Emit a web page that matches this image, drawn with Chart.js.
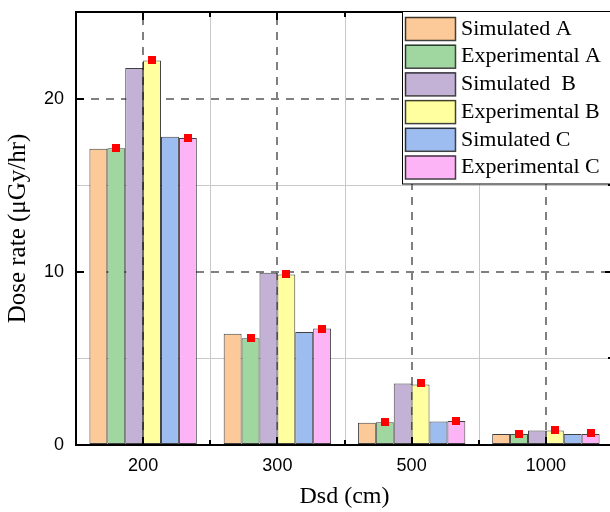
<!DOCTYPE html>
<html>
<head>
<meta charset="utf-8">
<script src="https://cdn.jsdelivr.net/npm/chart.js@4/dist/chart.umd.min.js"></script>
<style>
  html, body { margin: 0; padding: 0; background: #fff; overflow: hidden; }
  #doseChart { display: block; }
</style>
</head>
<body>
<canvas id="doseChart" width="614" height="512"></canvas>
<script>
// distances (cm)
const categories = ['200', '300', '500', '1000'];

// bar heights, µGy/hr
const simulatedA    = [17.10, 6.43, 1.29, 0.64];
const experimentalA = [17.13, 6.16, 1.31, 0.64];
const simulatedB    = [21.77, 9.94, 3.55, 0.83];
const experimentalB = [22.20, 9.85, 3.50, 0.83];
const simulatedC    = [17.80, 6.53, 1.35, 0.64];
const experimentalC = [17.73, 6.72, 1.39, 0.64];

// red square markers on the experimental bars
const markerA = [17.13, 6.16, 1.31, 0.64];
const markerB = [22.20, 9.87, 3.57, 0.87];
const markerC = [17.73, 6.72, 1.40, 0.67];

const yTicks = [0, 10, 20];

const SERIF = '"Liberation Serif", "Times New Roman", serif';
const SANS  = '"Liberation Sans", Arial, sans-serif';

const makeSet = (label, data, color) => ({
   label: label,
   data: data,
   backgroundColor: color,
   borderColor: 'rgba(0,0,0,0.75)',
   borderWidth: 1,
   borderSkipped: false,
   categoryPercentage: 0.8,
   barPercentage: 1.0
});

const datasets = [
   makeSet('Simulated A',    simulatedA,    '#FCC999'),
   makeSet('Experimental A', experimentalA, '#A0D7A0'),
   makeSet('Simulated  B',   simulatedB,    '#C3B2D6'),
   makeSet('Experimental B', experimentalB, '#FFFFA0'),
   makeSet('Simulated C',    simulatedC,    '#9DBCEF'),
   makeSet('Experimental C', experimentalC, '#FDB4F6')
];

const markerSets = [[1, markerA], [3, markerB], [5, markerC]];

const line = (ctx, x1, y1, x2, y2) => {
   ctx.beginPath();
   ctx.moveTo(x1, y1);
   ctx.lineTo(x2, y2);
   ctx.stroke();
};

const framePlugin = {
   id: 'frame',
   beforeDatasetsDraw(chart) {
      const { ctx, chartArea: a, scales: { x } } = chart;
      const step = x.getPixelForTick(1) - x.getPixelForTick(0);
      ctx.save();
      // minor vertical grid between groups
      ctx.strokeStyle = '#c8c8c8';
      ctx.lineWidth = 1;
      for (let i = 1; i < categories.length; i++) {
         const bx = Math.round(x.getPixelForTick(i) - step / 2) + 0.5;
         line(ctx, bx, a.top, bx, a.bottom);
      }
      // major dashed vertical grid at group centres
      ctx.strokeStyle = '#808080';
      ctx.lineWidth = 2;
      ctx.setLineDash([8, 7]);
      categories.forEach((c, i) => {
         const cx = Math.round(x.getPixelForTick(i));
         line(ctx, cx, a.bottom, cx, a.top);
      });
      ctx.restore();
   },
   afterDatasetsDraw(chart) {
      const { ctx, chartArea: a, scales: { x, y } } = chart;
      const step = x.getPixelForTick(1) - x.getPixelForTick(0);
      ctx.save();

      // markers
      ctx.fillStyle = '#ff0000';
      markerSets.forEach(([dsIndex, values]) => {
         const meta = chart.getDatasetMeta(dsIndex);
         values.forEach((v, j) => {
            const px = meta.data[j].x;
            const py = y.getPixelForValue(v);
            ctx.fillRect(Math.round(px - 4), Math.round(py - 4), 8, 8);
         });
      });

      // axis frame
      ctx.strokeStyle = '#000';
      ctx.lineWidth = 2;
      line(ctx, a.left - 1, a.bottom, a.right + 1, a.bottom);
      line(ctx, a.left, a.top, a.left, a.bottom + 1);
      line(ctx, a.left - 1, a.top, a.right + 1, a.top);
      line(ctx, a.right, a.top, a.right, a.bottom);

      // inward ticks
      categories.forEach((c, i) => {
         const cx = Math.round(x.getPixelForTick(i));
         line(ctx, cx, a.bottom, cx, a.bottom - 8);
         line(ctx, cx, a.top, cx, a.top + 8);
      });
      for (let i = 1; i < categories.length; i++) {
         const bx = Math.round(x.getPixelForTick(i) - step / 2);
         line(ctx, bx, a.bottom, bx, a.bottom - 5);
         line(ctx, bx, a.top, bx, a.top + 5);
      }
      yTicks.forEach(v => {
         const py = Math.round(y.getPixelForValue(v));
         line(ctx, a.left, py, a.left + 8, py);
         line(ctx, a.right, py, a.right - 8, py);
      });
      [5, 15].forEach(v => {
         const py = Math.round(y.getPixelForValue(v));
         line(ctx, a.right, py, a.right - 5, py);
      });

      // legend box
      const lx = 402.5, ly = 11.5, lw = 212, lh = 172.5;
      ctx.fillStyle = '#fff';
      ctx.fillRect(lx, ly, lw, lh);
      ctx.strokeStyle = '#000';
      ctx.lineWidth = 1;
      ctx.strokeRect(lx, ly, lw, lh);
      ctx.font = '22px ' + SERIF;
      ctx.textBaseline = 'middle';
      ctx.textAlign = 'left';
      chart.data.datasets.forEach((ds, i) => {
         const top = 17 + i * 27.7;
         ctx.fillStyle = ds.backgroundColor;
         ctx.fillRect(405, top, 50, 23);
         ctx.strokeStyle = 'rgba(0,0,0,0.75)';
         ctx.lineWidth = 1.5;
         ctx.strokeRect(405.5, top + 0.5, 50, 23);
         ctx.fillStyle = '#000';
         ctx.fillText(ds.label, 461, top + 12);
      });
      ctx.restore();
   }
};

new Chart(document.getElementById('doseChart'), {
   type: 'bar',
   data: {
      labels: categories,
      datasets: datasets
   },
   options: {
      responsive: false,
      animation: false,
      devicePixelRatio: 1,
      layout: { padding: { top: 12, right: 1, left: 0, bottom: 0 } },
      plugins: {
         legend: { display: false },
         tooltip: { enabled: false }
      },
      scales: {
         x: {
            offset: true,
            grid: { display: false, drawTicks: false },
            border: { display: false },
            ticks: { color: '#000', font: { family: SANS, size: 18 }, padding: 10, maxRotation: 0 },
            title: {
               display: true,
               text: 'Dsd (cm)',
               color: '#000',
               font: { family: SERIF, size: 24 },
               padding: { top: 0, bottom: 1 }
            },
            afterFit: scale => {
               scale.height = 67;
               scale.paddingLeft = 0;
               scale.paddingRight = 0;
            }
         },
         y: {
            min: 0,
            max: 25,
            ticks: {
               stepSize: 5,
               color: '#000',
               font: { family: SANS, size: 18 },
               padding: 12,
               callback: v => (yTicks.includes(v) ? String(v) : '')
            },
            grid: {
               drawTicks: false,
               color: ctx => {
                  const v = ctx.tick.value;
                  if (v === 10 || v === 20) return '#808080';
                  if (v === 5 || v === 15) return '#c8c8c8';
                  return 'rgba(0,0,0,0)';
               },
               lineWidth: ctx => (ctx.tick.value % 10 === 0 ? 2 : 1)
            },
            border: {
               display: false,
               dash: ctx => (ctx.tick && ctx.tick.value % 10 === 0 ? [8, 7] : [])
            },
            title: {
               display: true,
               text: 'Dose rate (μGy/hr)',
               color: '#000',
               font: { family: SERIF, size: 25 },
               padding: { top: 3, bottom: 0 }
            },
            afterFit: scale => {
               scale.width = 76;
               scale.paddingTop = 0;
               scale.paddingBottom = 0;
            }
         }
      }
   },
   plugins: [framePlugin]
});
</script>
</body>
</html>
